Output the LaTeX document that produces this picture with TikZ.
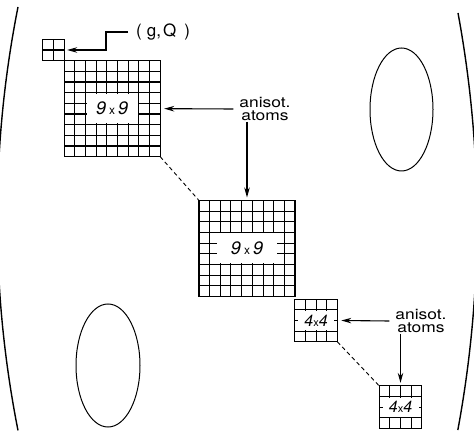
\documentclass[tikz,border=0pt]{standalone}
\usepackage{fontspec}
\setmainfont{TeX Gyre Heros}
\usetikzlibrary{arrows.meta}

\def\cellsize{10.67}
% square block of #3 x #3 cells, named #1, centred at #2
\newcommand{\cellblock}[3]{%
  \node[block, minimum size={#3*\cellsize}] (#1) at (#2) {};
  \pgfmathtruncatemacro{\lastk}{#3-1}
  \begin{scope}[shift={(#1.north west)}]
    \foreach \k in {1,...,\lastk}{
      \draw[vline] (\k*\cellsize,0) -- (\k*\cellsize,#3*\cellsize);
      \draw[hline] (0,\k*\cellsize) -- (#3*\cellsize,\k*\cellsize);
    }
  \end{scope}
}
\newcommand{\wide}[1]{\scalebox{1.2}[1]{#1}}

\tikzset{
  block/.style={draw, line width=1.2pt, inner sep=0pt, outer sep=0pt},
  vline/.style={line width=1pt},
  hline/.style={line width=1.25pt},
  tag/.style={fill=white, inner sep=0pt, font=\fontsize{18}{18}\selectfont\itshape},
  note/.style={align=center, inner sep=1pt, font=\fontsize{14.5}{13}\selectfont},
  pointer/.style={-{Stealth[length=10pt,width=5.5pt]}, line width=1.1pt},
  link/.style={dash pattern=on 4pt off 3pt, line width=0.9pt},
  rim/.style={line width=1.4pt},
}

\begin{document}
\begin{tikzpicture}[x=1pt,y=-1pt]
  \useasboundingbox (0,0) rectangle (474,435);

  % rim and holes
  \begin{scope}
    \clip (0,0) rectangle (474,435);
    \draw[rim] (18,7) arc[start angle=191.2, end angle=168.8, radius=1090];
    \draw[rim] (458,13) arc[start angle=-10.45, end angle=10.5, radius=1147];
  \end{scope}
  \draw[line width=1pt] (401.5,109.5) ellipse [x radius=31.5, y radius=61.5];
  \draw[line width=1pt] (108,365.5) ellipse [x radius=32, y radius=61.5];

  % blocks
  \cellblock{s}{53.5,50}{2}
  \cellblock{b1}{112.17,108.67}{9}
  \cellblock{b2}{247,248.5}{9}
  \cellblock{b3}{316,320.5}{4}
  \cellblock{b4}{400.5,407.2}{4}

  \node[tag, minimum width=51pt, minimum height=29pt] (t1) at (b1.center) {9\,{\upshape\fontsize{12}{12}\selectfont x}\,9};
  \node[tag, minimum width=60pt, minimum height=30pt] (t2) at (b2.center) {9\,{\upshape\fontsize{12}{12}\selectfont x}\,9};
  \node[tag, minimum width=36pt, minimum height=19pt, font=\fontsize{16}{16}\selectfont\itshape] (t3) at (b3.center) {4{\upshape\fontsize{11}{11}\selectfont x}4};
  \node[tag, minimum width=36pt, minimum height=19pt, font=\fontsize{16}{16}\selectfont\itshape] (t4) at (b4.center) {4{\upshape\fontsize{11}{11}\selectfont x}4};

  \draw[link] (b1.south east) -- (b2.north west);
  \draw[link] (b3.south east) -- (b4.north west);

  % labels
  \node[note, anchor=west, font=\fontsize{17}{17}\selectfont] (gq) at (135,32) {(\hspace{5pt}g,\hspace{2pt}Q\hspace{8pt})};
  \node[note] (a1) at (265,109) {\wide{anisot.}\\\wide{atoms}};
  \node[note] (a2) at (421,321) {\wide{anisot.}\\\wide{atoms}};

  \draw[pointer] ([xshift=-7pt]gq.west) -- ++(-22,0) |- ([xshift=3pt]s.east);
  \draw[pointer] ([xshift=-5pt]a1.west) -- ([xshift=4pt]b1.east);
  \draw[pointer] (a1.south -| b2.north) -- ([yshift=3pt]b2.north);
  \draw[pointer] ([xshift=-5pt]a2.west) -- ([xshift=4pt]b3.east);
  \draw[pointer] (a2.south -| b4.north) -- ([yshift=3pt]b4.north);
\end{tikzpicture}
\end{document}
